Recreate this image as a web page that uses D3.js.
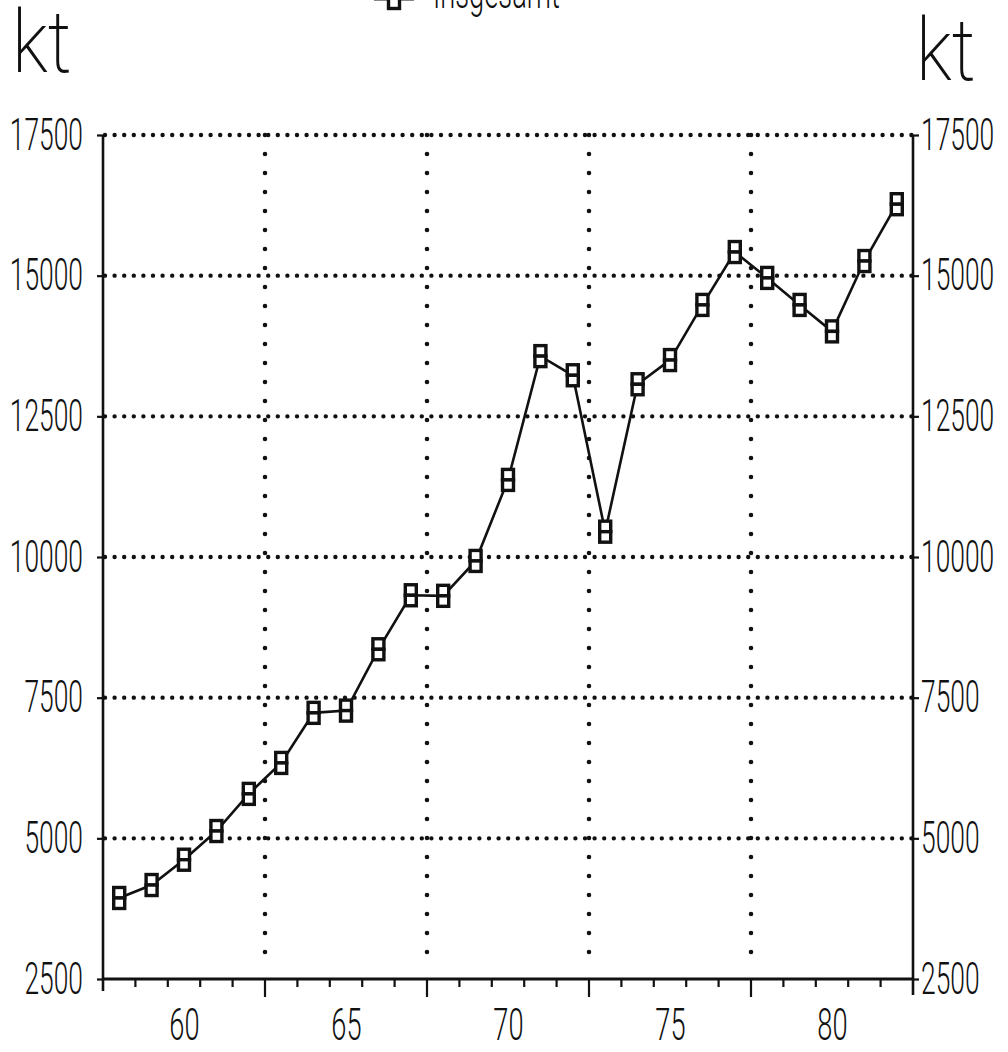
<!DOCTYPE html>
<html>
<head>
<meta charset="utf-8">
<script src="https://d3js.org/d3.v7.min.js"></script>
<style>
  body { margin: 0; background: #fff; }
  svg text { font-family: "Roboto", "DejaVu Sans", sans-serif; font-weight: 300; fill: #111; }
</style>
</head>
<body>
<svg id="chart" width="1008" height="1052"></svg>
<script>
// data
var years = [1958, 1959, 1960, 1961, 1962, 1963, 1964, 1965, 1966, 1967, 1968, 1969,
             1970, 1971, 1972, 1973, 1974, 1975, 1976, 1977, 1978, 1979, 1980, 1981, 1982];
var values = [3940, 4170, 4620, 5130, 5790, 6340, 7230, 7270, 8360, 9320, 9310, 9930,
              11370, 13570, 13230, 10450, 13070, 13500, 14480, 15420, 14960, 14480, 14010, 15260, 16270];
var yTicks = [2500, 5000, 7500, 10000, 12500, 15000, 17500];
var xLabelYears = [1960, 1965, 1970, 1975, 1980];
var xLabels = ["60", "65", "70", "75", "80"];
var gridYears = [1962.5, 1967.5, 1972.5, 1977.5];
var unitLabel = "kt";
var seriesName = "Insgesamt";

var margin = {top: 135, right: 95, bottom: 73, left: 103},
    width = 1008 - margin.left - margin.right,
    height = 1052 - margin.top - margin.bottom;

var svg = d3.select("#chart");
var g = svg.append("g").attr("transform", "translate(" + margin.left + "," + margin.top + ")");

var x = d3.scaleLinear().domain([1957.5, 1982.5]).range([0, width]);
var y = d3.scaleLinear().domain([2500, 17500]).range([height, 0]);

// dotted grid
g.selectAll(".hgrid").data(yTicks.slice(1)).enter().append("line")
  .attr("x1", 2).attr("x2", width)
  .attr("y1", function(d) { return y(d); }).attr("y2", function(d) { return y(d); })
  .style("stroke", "#111").style("stroke-width", 4.4)
  .style("stroke-linecap", "round").style("stroke-dasharray", "0 9.6");

g.selectAll(".vgrid").data(gridYears).enter().append("line")
  .attr("x1", function(d) { return x(d); }).attr("x2", function(d) { return x(d); })
  .attr("y1", 0).attr("y2", height - 8)
  .style("stroke", "#111").style("stroke-width", 4.6)
  .style("stroke-linecap", "round").style("stroke-dasharray", "0 19");

// frame: left, right, bottom
g.append("line").attr("x1", 0).attr("x2", 0).attr("y1", 0).attr("y2", height + 12)
  .style("stroke", "#111").style("stroke-width", 2.6);
g.append("line").attr("x1", width).attr("x2", width).attr("y1", 0).attr("y2", height + 16)
  .style("stroke", "#111").style("stroke-width", 2.6);
g.append("line").attr("x1", 0).attr("x2", width).attr("y1", height).attr("y2", height)
  .style("stroke", "#111").style("stroke-width", 3);

// x ticks at year boundaries
var boundaries = years.slice(1).map(function(d) { return d - 0.5; });
g.selectAll(".xtick").data(boundaries).enter().append("line")
  .attr("x1", function(d) { return x(d); }).attr("x2", function(d) { return x(d); })
  .attr("y1", height)
  .attr("y2", function(d) { return gridYears.indexOf(d) >= 0 ? height + 18 : height + 8; })
  .style("stroke", "#111").style("stroke-width", 2.2);

// y axes (ticks + labels), digits squeezed to the narrow plotter look
var leftAxis = g.append("g").call(d3.axisLeft(y).tickValues(yTicks).tickSize(6).tickFormat(d3.format("d")));
var rightAxis = g.append("g").attr("transform", "translate(" + width + ",0)")
  .call(d3.axisRight(y).tickValues(yTicks).tickSize(6).tickFormat(d3.format("d")));
[leftAxis, rightAxis].forEach(function(ax) {
  ax.select(".domain").remove();
  ax.selectAll(".tick line").style("stroke", "#111").style("stroke-width", 2.2);
  ax.selectAll(".tick text").attr("dy", null).attr("x", 0).attr("y", 0).style("font-size", "44px");
});
leftAxis.selectAll(".tick text").attr("transform", "translate(-20,14) scale(0.6,1)");
rightAxis.selectAll(".tick text").attr("transform", "translate(8,14) scale(0.6,1)");

// x labels
var bottomAxis = g.append("g").attr("transform", "translate(0," + height + ")")
  .call(d3.axisBottom(x).tickValues(xLabelYears).tickSize(0)
    .tickFormat(function(d, i) { return xLabels[i]; }));
bottomAxis.select(".domain").remove();
bottomAxis.selectAll(".tick text")
  .attr("dy", null).attr("x", 0).attr("y", 0)
  .attr("transform", "translate(0,61) scale(0.62,1)")
  .style("font-size", "44px");

// series line
var line = d3.line()
  .x(function(d, i) { return x(years[i]); })
  .y(function(d) { return y(d); });
g.append("path").datum(values)
  .attr("d", line)
  .style("fill", "none").style("stroke", "#111").style("stroke-width", 2.6);

// markers: two stacked little boxes
function marker(sel) {
  sel.append("rect").attr("x", -5.5).attr("y", -10.5).attr("width", 11).attr("height", 10.5)
    .style("fill", "#fff").style("stroke", "#111").style("stroke-width", 3.4);
  sel.append("rect").attr("x", -5.5).attr("y", 0).attr("width", 11).attr("height", 10.5)
    .style("fill", "#fff").style("stroke", "#111").style("stroke-width", 3.4);
}
g.selectAll(".pt").data(values).enter().append("g")
  .attr("transform", function(d, i) { return "translate(" + x(years[i]) + "," + y(d) + ")"; })
  .call(marker);

// unit labels
svg.append("text").attr("transform", "translate(12,72) scale(0.85,1)").text(unitLabel)
  .style("font-size", "88px").style("font-weight", 200);
svg.append("text").attr("transform", "translate(916,80) scale(0.85,1)").text(unitLabel)
  .style("font-size", "88px").style("font-weight", 200);

// legend, cut off at the top edge like the scan
var leg = svg.append("g");
leg.append("line").attr("x1", 374).attr("x2", 414).attr("y1", -1).attr("y2", -1)
  .style("stroke", "#111").style("stroke-width", 3);
leg.append("g").attr("transform", "translate(394,-2)").call(marker);
leg.append("text").attr("transform", "translate(433,8) scale(0.62,1)").text(seriesName)
  .style("font-size", "44px");
</script>
</body>
</html>
